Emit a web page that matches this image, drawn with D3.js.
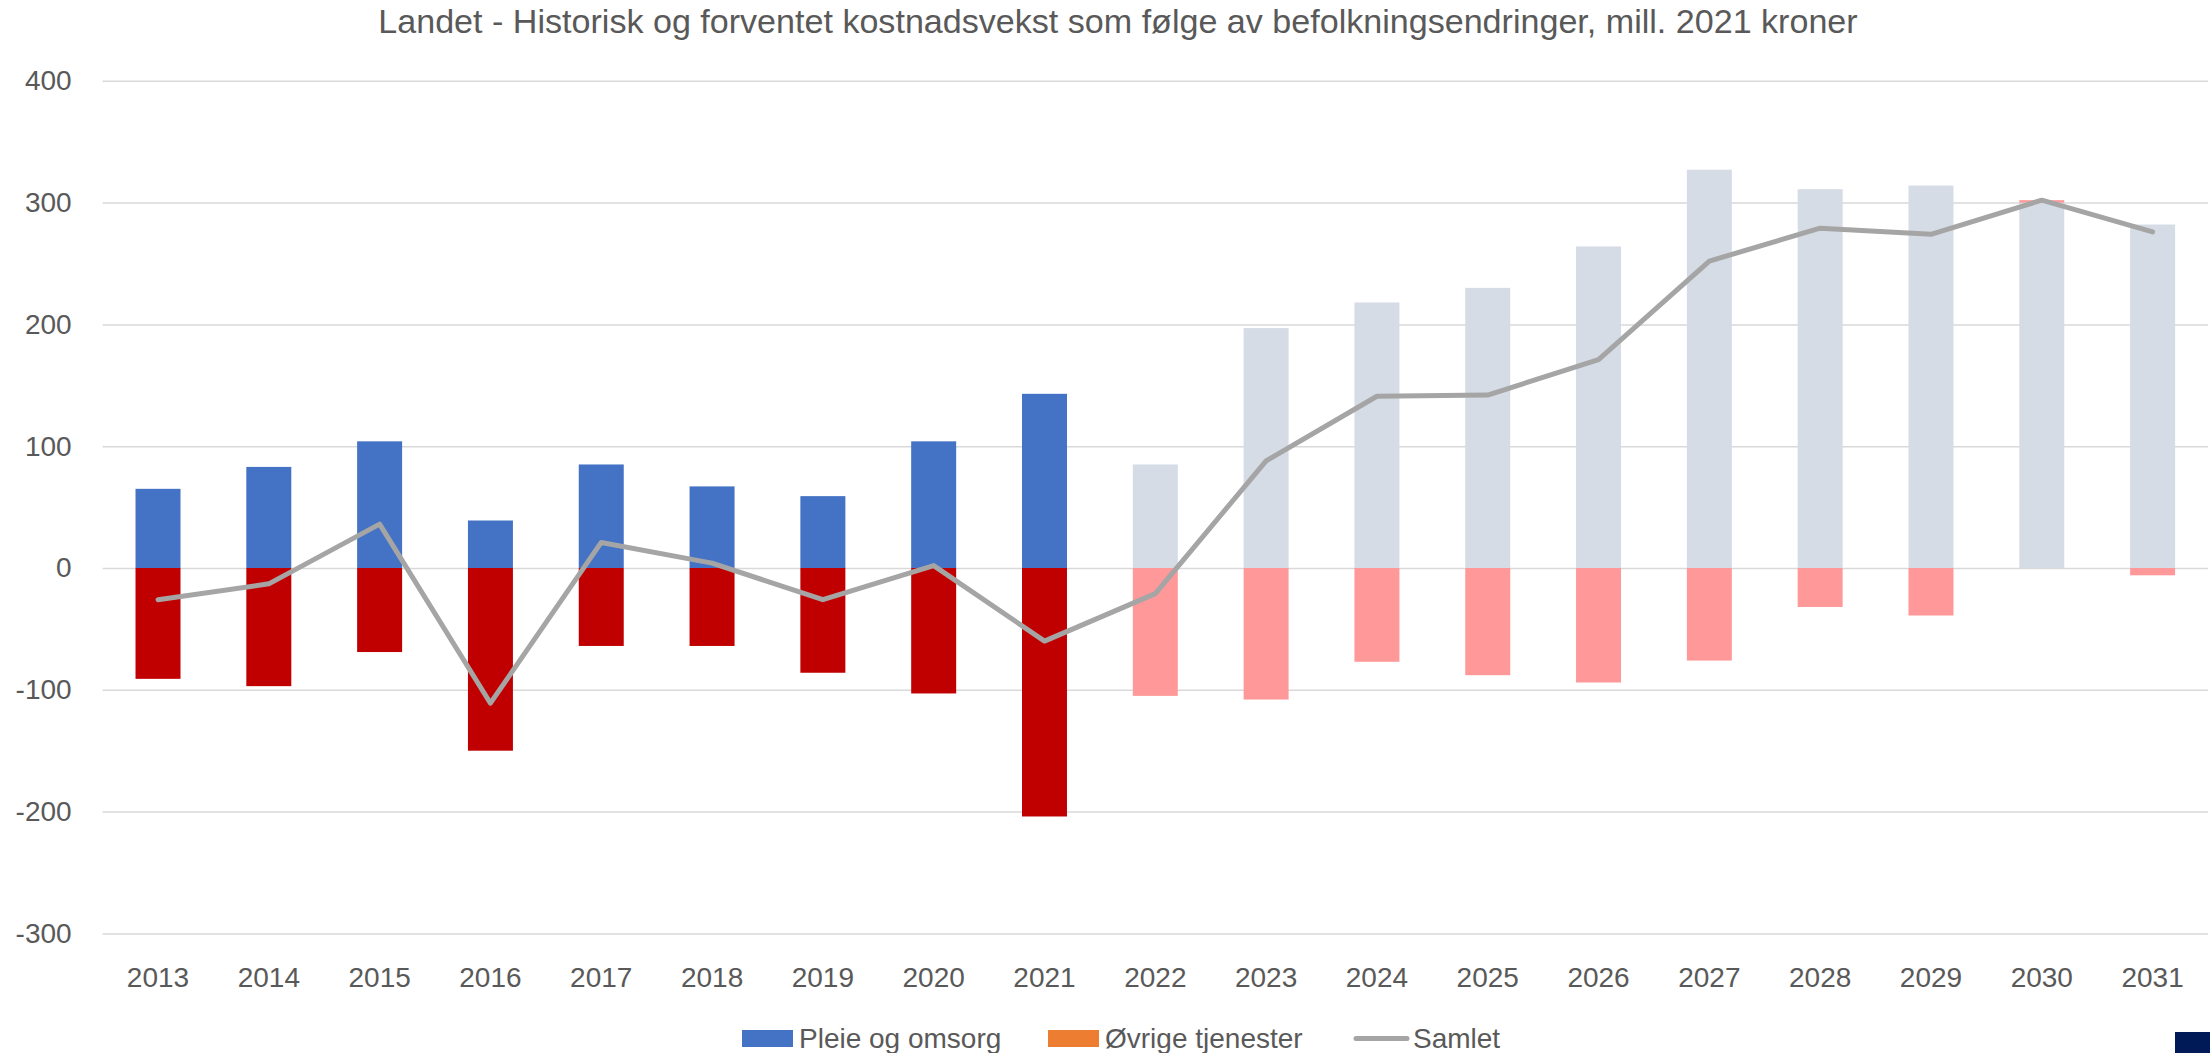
<!DOCTYPE html>
<html>
<head>
<meta charset="utf-8">
<script src="https://cdn.jsdelivr.net/npm/d3@7"></script>
<style>
  body { margin: 0; background: #fff; }
  svg { display: block; font-family: "Liberation Sans", Arial, sans-serif; }
  .axis text { fill: #595959; }
  .axis .domain { display: none; }
</style>
</head>
<body>
<svg></svg>
<script>
// years on the x axis
var years = [2013, 2014, 2015, 2016, 2017, 2018, 2019, 2020, 2021, 2022,
  2023, 2024, 2025, 2026, 2027, 2028, 2029, 2030, 2031];
// from this year on the bars are forecasts (pale colours)
var firstForecast = 2022;

var pleie = [65, 83, 104, 39, 85, 67, 59, 104, 143, 85,
  197, 218, 230, 264, 327, 311, 314, 300, 282];
var ovrige = [-91, -97, -69, -150, -64, -64, -86, -103, -204, -105,
  -108, -77, -88, -94, -76, -32, -39, 2, -6];
var samlet = [-26, -13, 36, -111, 21, 4, -26, 2, -60, -21,
  88, 141, 142, 171, 252, 279, 274, 302, 276];

var yTicks = [-300, -200, -100, 0, 100, 200, 300, 400];
var seriesNames = ["Pleie og omsorg", "Øvrige tjenester", "Samlet"];
var title = "Landet - Historisk og forventet kostnadsvekst som følge av befolkningsendringer, mill. 2021 kroner";

var screen = { width: 2210, height: 1053 };
var margins = { left: 102.6, right: 2, top: 80.8, bottom: 119.6 };

var colors = {
  pleie: "#4472C4", pleieForecast: "#D6DCE5",
  ovrige: "#C00000", ovrigeForecast: "#FF9999",
  ovrigeLegend: "#ED7D31", samlet: "#A5A5A5"
};

var makeTranslateString = function (x, y) {
  return "translate(" + x + "," + y + ")";
};

var svg = d3.select("svg").attr("width", screen.width).attr("height", screen.height);

var xScale = d3.scaleBand()
  .domain(years)
  .range([margins.left, screen.width - margins.right])
  .paddingInner(0.594)
  .paddingOuter(0.297);

var yScale = d3.scaleLinear()
  .domain([-300, 400])
  .range([screen.height - margins.bottom, margins.top]);

// gridlines + y labels (plain hyphen for negatives, like the original)
var yAxis = d3.axisLeft(yScale)
  .tickValues(yTicks)
  .tickFormat(function (d) { return String(d); })
  .tickSize(-(screen.width - margins.right - margins.left))
  .tickPadding(31);

svg.append("g")
  .attr("class", "axis")
  .attr("transform", makeTranslateString(margins.left, 0))
  .call(yAxis)
  .call(function (g) {
    g.selectAll("line").attr("stroke", "#D9D9D9").attr("stroke-width", 1.5);
    g.selectAll("text").style("font-size", "28px");
  });

// x labels
var xAxis = d3.axisBottom(xScale).tickSize(0).tickPadding(34);
svg.append("g")
  .attr("class", "axis")
  .attr("transform", makeTranslateString(0, yScale(-300)))
  .call(xAxis)
  .call(function (g) {
    g.selectAll("text").style("font-size", "28px");
  });

// stacked bars (positives up from 0, negatives down)
var rows = years.map(function (year, i) {
  return { year: year, pleie: pleie[i], ovrige: ovrige[i] };
});

var stacked = d3.stack()
  .keys(["pleie", "ovrige"])
  .offset(d3.stackOffsetDiverging)(rows);

var barColor = function (key, year) {
  if (year >= firstForecast) return colors[key + "Forecast"];
  return colors[key];
};

var plot = svg.append("g").attr("id", "plot");

stacked.forEach(function (layer) {
  plot.append("g")
    .selectAll("rect")
    .data(layer)
    .enter()
    .append("rect")
    .attr("x", function (d) { return xScale(d.data.year); })
    .attr("width", xScale.bandwidth())
    .attr("y", function (d) { return yScale(Math.max(d[0], d[1])); })
    .attr("height", function (d) { return Math.abs(yScale(d[0]) - yScale(d[1])); })
    .attr("fill", function (d) { return barColor(layer.key, d.data.year); });
});

// Samlet line
var line = d3.line()
  .x(function (d, i) { return xScale(years[i]) + xScale.bandwidth() / 2; })
  .y(function (d) { return yScale(d); });

plot.append("path")
  .datum(samlet)
  .attr("d", line)
  .attr("fill", "none")
  .attr("stroke", colors.samlet)
  .attr("stroke-width", 5)
  .attr("stroke-linejoin", "round")
  .attr("stroke-linecap", "round");

// title, stretched to the width it has in the original
var tText = svg.append("text")
  .attr("x", 1118)
  .attr("y", 33)
  .attr("text-anchor", "middle")
  .attr("fill", "#595959")
  .style("font-size", "30px")
  .text(title);
var tWidth = tText.node().getComputedTextLength();
tText.style("font-size", (30 * 1480 / tWidth) + "px");

// legend
var legend = svg.append("g").attr("class", "legend");
var legendItems = [
  { name: seriesNames[0], x: 742, color: colors.pleie, type: "rect" },
  { name: seriesNames[1], x: 1048, color: colors.ovrigeLegend, type: "rect" },
  { name: seriesNames[2], x: 1354, color: colors.samlet, type: "line" }
];
legendItems.forEach(function (item) {
  if (item.type === "rect") {
    legend.append("rect")
      .attr("x", item.x).attr("y", 1030)
      .attr("width", 51).attr("height", 17)
      .attr("fill", item.color);
  } else {
    legend.append("line")
      .attr("x1", item.x + 2).attr("x2", item.x + 53)
      .attr("y1", 1038.5).attr("y2", 1038.5)
      .attr("stroke", item.color)
      .attr("stroke-width", 5)
      .attr("stroke-linecap", "round");
  }
  legend.append("text")
    .attr("x", item.x + (item.type === "rect" ? 57 : 59))
    .attr("y", 1048)
    .attr("fill", "#595959")
    .style("font-size", "28px")
    .text(item.name);
});

// dark corner block seen in the original picture
svg.append("rect")
  .attr("x", 2175).attr("y", 1032)
  .attr("width", 35).attr("height", 21)
  .attr("fill", "#001A57");
</script>
</body>
</html>
